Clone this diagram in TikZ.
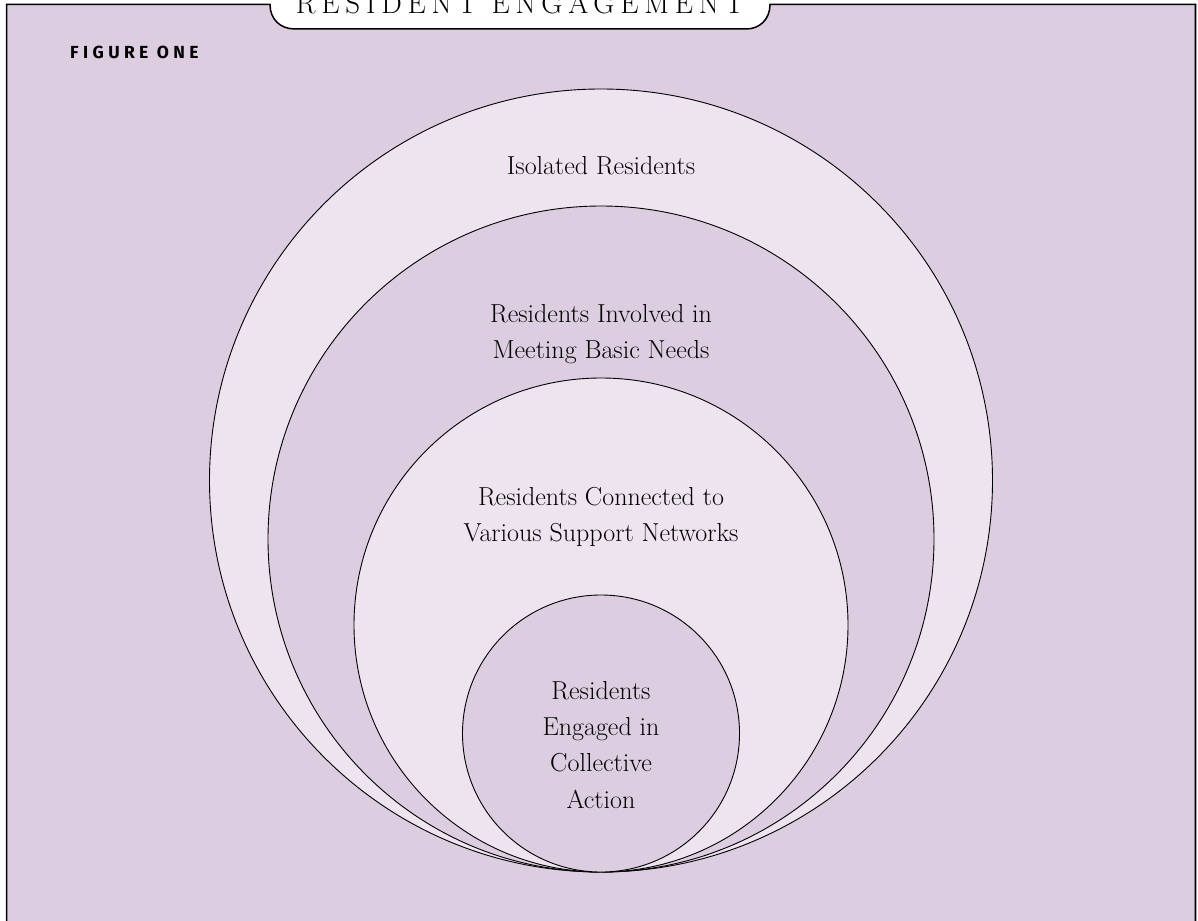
\documentclass[tikz,border=0pt]{standalone}
\usepackage{fontspec}
\newfontfamily\figfont[LetterSpace=25]{Fira Sans}
\newfontfamily\titlefont[LetterSpace=20]{Latin Modern Roman}
\definecolor{lavdark}{RGB}{220,205,225}
\definecolor{lavlight}{RGB}{238,228,239}
\tikzset{
  ring/.style={circle, draw=black, line width=0.9pt, inner sep=0pt, outer sep=0pt},
  lbl/.style={anchor=base, inner sep=0pt, font=\fontsize{26}{36}\selectfont},
}
\begin{document}
\begin{tikzpicture}[x=1pt,y=-1pt]
\useasboundingbox (0,0) rectangle (1198,920);
\fill[white] (0,0) rectangle (1198,920);
% frame with tab
\fill[lavdark] (6.5,930) -- (6.5,4.5) -- (270,4.5) .. controls (270,19) and (280,29) .. (295,29)
  -- (746,29) .. controls (760,29) and (770,19) .. (770,4.5) -- (1195.5,4.5) -- (1195.5,930) -- cycle;
\draw[line width=1.5pt] (6.5,930) -- (6.5,4.5) -- (270,4.5) .. controls (270,19) and (280,29) .. (295,29)
  -- (746,29) .. controls (760,29) and (770,19) .. (770,4.5) -- (1195.5,4.5) -- (1195.5,930);
\draw[line width=1pt, gray] (1194,5.5) -- (1194,930);
\node[anchor=base, inner sep=0pt, font=\titlefont\fontsize{29}{30}\selectfont] (title) at (520,14) {RESIDENT ENGAGEMENT};
\node[anchor=base west, inner sep=0pt, font=\figfont\bfseries\fontsize{17.5}{20}\selectfont] (fig) at (70,59) {FIGURE ONE};
% circles
\node[ring, fill=lavlight, minimum size=783pt] (c1) at (601,480.5) {};
\node[ring, fill=lavdark, minimum size=666pt] (c2) at (601,539) {};
\node[ring, fill=lavlight, minimum size=494pt] (c3) at (601,625) {};
\node[ring, fill=lavdark, minimum size=277pt] (c4) at (601,733.5) {};
% labels
\node[lbl] (l1) at (601,175) {Isolated Residents};
\node[lbl] (l2a) at (601,322) {Residents Involved in};
\node[lbl] (l2b) at (601,358.5) {Meeting Basic Needs};
\node[lbl] (l3a) at (601,505) {Residents Connected to};
\node[lbl] (l3b) at (601,541.5) {Various Support Networks};
\node[lbl] (l4a) at (601,699) {Residents};
\node[lbl] (l4b) at (601,735) {Engaged in};
\node[lbl] (l4c) at (601,771) {Collective};
\node[lbl] (l4d) at (601,808) {Action};
\end{tikzpicture}
\end{document}
